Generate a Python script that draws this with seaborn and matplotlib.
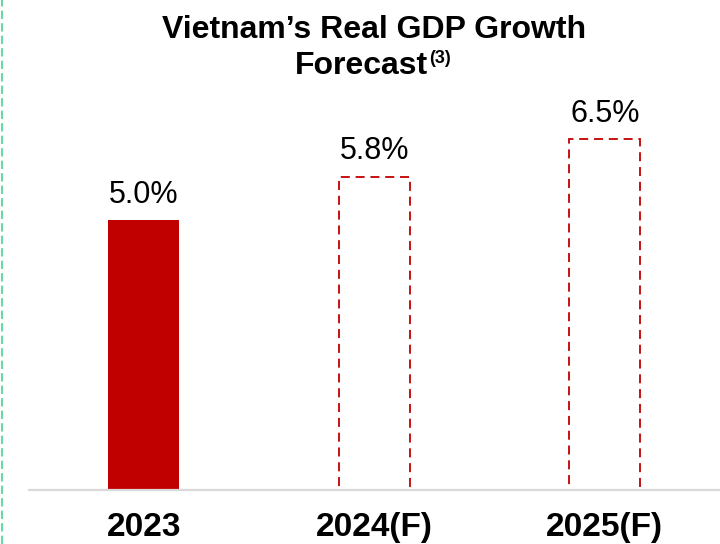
import matplotlib
matplotlib.use("Agg")
import matplotlib.pyplot as plt
import seaborn as sns
import pandas as pd
from matplotlib import font_manager
from matplotlib.lines import Line2D

categories = ["2023", "2024(F)", "2025(F)"]
values = [5.0, 5.8, 6.5]
forecast = [False, True, True]
title_line1 = "Vietnam\u2019s Real GDP Growth"
title_line2 = "Forecast"
title_sup = "(3)"

sns.set_theme(style="white")
names = {f.name for f in font_manager.fontManager.ttflist}
narrow = "Liberation Sans Narrow" if "Liberation Sans Narrow" in names else "Liberation Sans"
plt.rcParams["font.family"] = ["Liberation Sans", "DejaVu Sans"]
plt.rcParams["text.color"] = "black"

RED = "#C00000"
W, H = 720, 544
fig = plt.figure(figsize=(W / 100, H / 100), dpi=100)
fig.patch.set_facecolor("white")
ax = fig.add_axes([28.5 / W, (H - 490) / H, (W - 28.5) / W, 390 / H])

df = pd.DataFrame({"year": categories, "value": values})
sns.barplot(data=df, x="year", y="value", color=RED, width=0.31, ax=ax,
            saturation=1)

for patch, fc in zip(ax.patches, forecast):
    if fc:
        patch.set_facecolor("none")
        patch.set_edgecolor(RED)
        patch.set_linestyle((0, (5, 3.2)))
        patch.set_linewidth(1.3)
    else:
        patch.set_edgecolor("none")

for i, v in enumerate(values):
    ax.annotate(f"{v:.1f}%", (i, v), xytext=(0, 12.5), textcoords="offset points",
                ha="center", va="baseline", fontsize=22, color="black",
                family=["Liberation Sans", "DejaVu Sans"])

ax.set_xlim(-0.5, 2.5)
ax.set_ylim(0, 390 / 54)
ax.set_xlabel("")
ax.set_ylabel("")
ax.set_yticks([])
for s in ["top", "right", "left"]:
    ax.spines[s].set_visible(False)
ax.spines["bottom"].set_color("#d9d9d9")
ax.spines["bottom"].set_linewidth(1.6)
ax.tick_params(axis="x", length=0, pad=16)
for lbl in ax.get_xticklabels():
    lbl.set_fontsize(24)
    lbl.set_fontweight("bold")
    lbl.set_family([narrow, "DejaVu Sans"])
    lbl.set_color("black")

cx = (28.5 + 720) / 2 / W
fig.text(cx, (H - 38) / H, title_line1, ha="center", va="baseline",
         fontsize=23, fontweight="bold", color="black", family=[narrow, "DejaVu Sans"])
fig.text(428 / W, (H - 74) / H, title_line2, ha="right", va="baseline",
         fontsize=23, fontweight="bold", color="black", family=[narrow, "DejaVu Sans"])
fig.text(429 / W, (H - 63) / H, title_sup, ha="left", va="baseline",
         fontsize=13, fontweight="bold", color="black", family=[narrow, "DejaVu Sans"])

fig.add_artist(Line2D([1.5 / W, 1.5 / W], [0, 1], transform=fig.transFigure,
                      color="#6ad8a4", lw=1.5, ls=(0, (4, 2))))

fig.savefig("out.png", dpi=100, facecolor="white")
